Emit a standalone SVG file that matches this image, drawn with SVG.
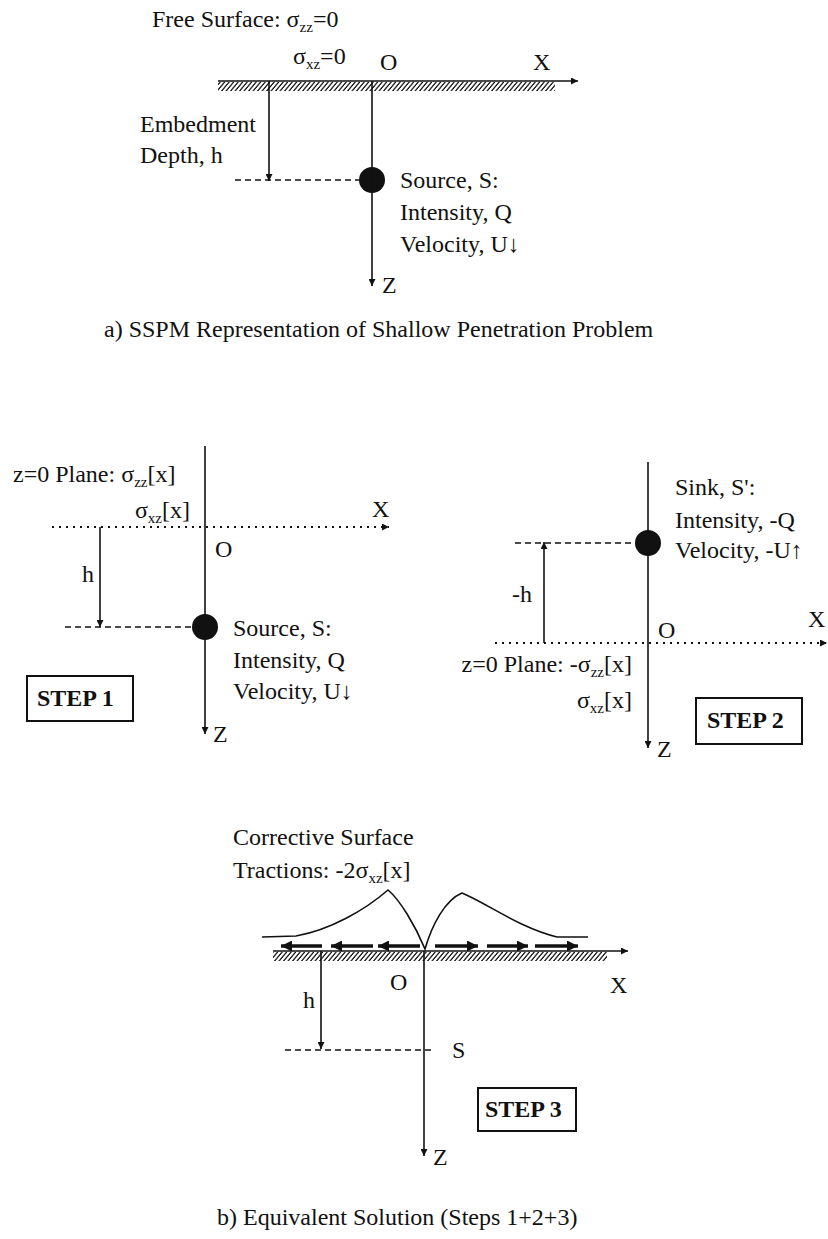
<svg xmlns="http://www.w3.org/2000/svg" width="828" height="1239" viewBox="0 0 828 1239">
<defs>
<style>
text{font-family:"Liberation Serif","Times New Roman",serif;font-size:24px;fill:#111}
.sub{font-size:15px}
.b{font-weight:bold}
.ax{stroke:#111;stroke-width:1.6;fill:none}
.dash{stroke:#111;stroke-width:1.4;stroke-dasharray:6 4;fill:none}
.dot{stroke:#111;stroke-width:1.8;stroke-dasharray:2 5;fill:none}
.box{fill:#fff;stroke:#111;stroke-width:2}
.tr{stroke:#111;stroke-width:3.5;fill:none}
</style>
<marker id="ah" viewBox="0 0 10 10" refX="10" refY="5" markerWidth="7" markerHeight="7" markerUnits="userSpaceOnUse" orient="auto"><path d="M0,0 L10,5 L0,10 z" fill="#111"/></marker>
<marker id="ahb" viewBox="0 0 10 10" refX="10" refY="5" markerWidth="11" markerHeight="11" markerUnits="userSpaceOnUse" orient="auto"><path d="M0,0 L10,5 L0,10 z" fill="#111"/></marker>
<pattern id="hatch" width="4.5" height="9" patternUnits="userSpaceOnUse" patternTransform="skewX(-40)"><line x1="1" y1="0" x2="1" y2="9" stroke="#111" stroke-width="1.6"/></pattern>
</defs>
<rect width="828" height="1239" fill="#fff"/>

<!-- ===== Part a ===== -->
<g id="a-surface">
<rect x="218" y="82" width="337" height="9" fill="url(#hatch)"/>
<text x="152" y="27">Free Surface: σ<tspan class="sub" dy="5">zz</tspan><tspan dy="-5">=0</tspan></text>
<text x="293" y="64">σ<tspan class="sub" dy="5">xz</tspan><tspan dy="-5">=0</tspan></text>
<text x="380" y="70">O</text>
<text x="533" y="70">X</text>
</g>
<g id="a-depth">
<text x="140" y="132">Embedment</text>
<text x="140" y="163">Depth, h</text>
</g>
<g id="a-source">
<circle cx="372" cy="180" r="13" fill="#111"/>
<text x="400" y="188">Source, S:</text>
<text x="400" y="220">Intensity, Q</text>
<text x="400" y="252">Velocity, U↓</text>
<text x="382" y="293">Z</text>
</g>
<g id="a-caption">
<text x="104" y="337">a) SSPM Representation of Shallow Penetration Problem</text>
</g>

<!-- ===== Step 1 ===== -->
<g id="s1-plane">
<text x="13" y="482">z=0 Plane: σ<tspan class="sub" dy="5">zz</tspan><tspan dy="-5">[x]</tspan></text>
<text x="190" y="518" text-anchor="end">σ<tspan class="sub" dy="5">xz</tspan><tspan dy="-5">[x]</tspan></text>
<text x="372" y="517">X</text>
<text x="215" y="557">O</text>
<text x="82" y="582">h</text>
</g>
<g id="s1-source">
<circle cx="205" cy="627" r="13" fill="#111"/>
<text x="233" y="636">Source, S:</text>
<text x="233" y="668">Intensity, Q</text>
<text x="233" y="699">Velocity, U↓</text>
<text x="213" y="742">Z</text>
</g>
<g id="s1-label">
<rect class="box" x="27" y="676" width="106" height="45"/>
<text class="b" x="37" y="706">STEP 1</text>
</g>

<!-- ===== Step 2 ===== -->
<g id="s2-sink">
<circle cx="648" cy="543" r="13" fill="#111"/>
<text x="675" y="495">Sink, S':</text>
<text x="675" y="528">Intensity, -Q</text>
<text x="675" y="558">Velocity, -U↑</text>
<text x="512" y="602">-h</text>
</g>
<g id="s2-plane">
<text x="808" y="627">X</text>
<text x="658" y="638">O</text>
<text x="632" y="672" text-anchor="end">z=0 Plane: -σ<tspan class="sub" dy="5">zz</tspan><tspan dy="-5">[x]</tspan></text>
<text x="632" y="708" text-anchor="end">σ<tspan class="sub" dy="5">xz</tspan><tspan dy="-5">[x]</tspan></text>
<text x="657" y="757">Z</text>
</g>
<g id="s2-label">
<rect class="box" x="696" y="698" width="106" height="46"/>
<text class="b" x="707" y="728">STEP 2</text>
</g>

<!-- ===== Step 3 ===== -->
<g id="s3-tractions">
<text x="233" y="845">Corrective Surface</text>
<text x="233" y="878">Tractions: -2σ<tspan class="sub" dy="5">xz</tspan><tspan dy="-5">[x]</tspan></text>
<path class="ax" d="M262,937 L296,936 C330,930 365,910 388,890 C400,900 415,925 425,949 C432,925 445,900 462,893 C490,905 520,928 557,937 L588,937"/>
</g>
<g id="s3-surface">
<rect x="273" y="952" width="334" height="9" fill="url(#hatch)"/>
<text x="390" y="990">O</text>
<text x="610" y="993">X</text>
<text x="303" y="1008">h</text>
<text x="452" y="1058">S</text>
<text x="433" y="1165">Z</text>
</g>
<g id="s3-label">
<rect class="box" x="478" y="1088" width="98" height="43"/>
<text class="b" x="485" y="1117">STEP 3</text>
</g>
<g id="b-caption">
<text x="217" y="1225">b) Equivalent Solution (Steps 1+2+3)</text>
</g>

<!-- ===== Connectors ===== -->
<g id="connectors">
<!-- part a -->
<line class="ax" x1="218" y1="81" x2="578" y2="81" marker-end="url(#ah)"/>
<line class="ax" x1="372" y1="81" x2="372" y2="286" marker-end="url(#ah)"/>
<line class="ax" x1="269" y1="81" x2="269" y2="181" marker-end="url(#ah)"/>
<line class="dash" x1="235" y1="180" x2="359" y2="180"/>
<!-- step 1 -->
<line class="ax" x1="205" y1="446" x2="205" y2="734" marker-end="url(#ah)"/>
<line class="dot" x1="52" y1="527" x2="389" y2="527" marker-end="url(#ah)"/>
<line class="ax" x1="100" y1="527" x2="100" y2="627" marker-end="url(#ah)"/>
<line class="dash" x1="65" y1="627" x2="192" y2="627"/>
<!-- step 2 -->
<line class="ax" x1="648" y1="462" x2="648" y2="748" marker-end="url(#ah)"/>
<line class="dot" x1="495" y1="643" x2="827" y2="643" marker-end="url(#ah)"/>
<line class="ax" x1="544" y1="643" x2="544" y2="542" marker-end="url(#ah)"/>
<line class="dash" x1="515" y1="543" x2="635" y2="543"/>
<!-- step 3 -->
<line class="ax" x1="273" y1="951" x2="628" y2="951" marker-end="url(#ah)"/>
<line class="ax" x1="424" y1="951" x2="424" y2="1156" marker-end="url(#ah)"/>
<line class="ax" x1="321" y1="951" x2="321" y2="1049" marker-end="url(#ah)"/>
<line class="dash" x1="285" y1="1050" x2="432" y2="1050"/>
<line class="tr" x1="322" y1="946" x2="281" y2="946" marker-end="url(#ahb)"/>
<line class="tr" x1="373" y1="946" x2="331" y2="946" marker-end="url(#ahb)"/>
<line class="tr" x1="420" y1="946" x2="378" y2="946" marker-end="url(#ahb)"/>
<line class="tr" x1="435" y1="946" x2="478" y2="946" marker-end="url(#ahb)"/>
<line class="tr" x1="487" y1="946" x2="528" y2="946" marker-end="url(#ahb)"/>
<line class="tr" x1="535" y1="946" x2="578" y2="946" marker-end="url(#ahb)"/>
</g>
</svg>
